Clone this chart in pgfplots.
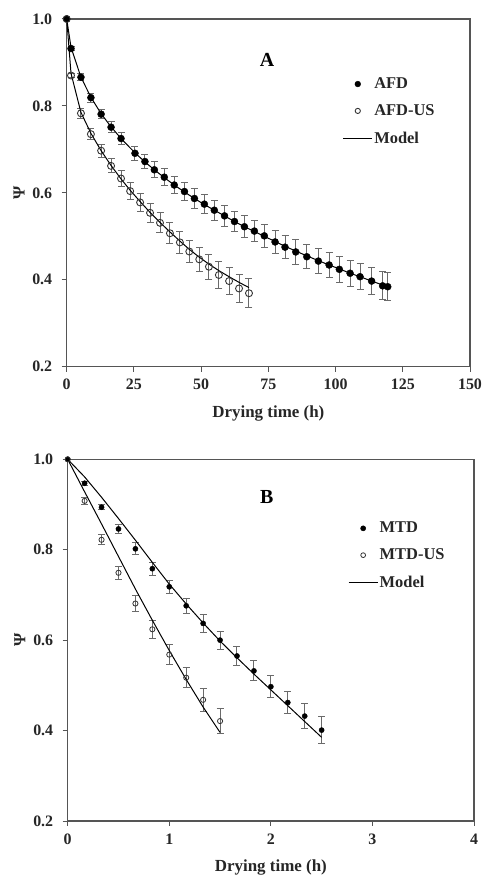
\documentclass[border=0pt]{standalone}
\usepackage{fontspec}
\setmainfont{Liberation Serif}
\usepackage{pgfplots}
\usepackage{pgfplotstable}
\pgfplotsset{compat=1.18}

\pgfplotstableread{
x y e
0 1.000 0
1.6 0.932 0.005
5.3 0.866 0.008
9.0 0.819 0.010
12.8 0.781 0.011
16.5 0.751 0.013
20.2 0.725 0.014
25.4 0.691 0.016
29.1 0.672 0.017
32.6 0.653 0.018
36.3 0.636 0.019
40.0 0.618 0.020
43.8 0.603 0.021
47.5 0.587 0.022
51.2 0.574 0.022
54.9 0.560 0.023
58.7 0.547 0.024
62.4 0.534 0.024
66.1 0.522 0.025
69.8 0.512 0.025
73.5 0.501 0.026
77.5 0.487 0.027
81.2 0.475 0.027
85.2 0.464 0.028
89.3 0.453 0.028
93.6 0.443 0.029
97.6 0.434 0.029
101.4 0.424 0.030
105.4 0.415 0.030
109.1 0.407 0.030
113.4 0.397 0.031
117.5 0.386 0.032
119.4 0.384 0.032
}\afd

\pgfplotstableread{
x y e
0 1.000 0
1.6 0.870 0.005
5.3 0.783 0.012
9.0 0.735 0.013
12.8 0.697 0.015
16.5 0.662 0.016
20.2 0.633 0.018
23.6 0.604 0.020
27.3 0.578 0.021
31.0 0.554 0.022
34.7 0.531 0.023
38.4 0.507 0.024
42.1 0.486 0.025
45.6 0.465 0.026
49.3 0.447 0.028
52.9 0.430 0.029
56.6 0.411 0.030
60.4 0.397 0.031
64.1 0.380 0.032
67.8 0.369 0.033
}\afdus

\pgfplotstableread{
x y
0 1.000
1.6 0.935
5.3 0.866
9.0 0.820
12.8 0.782
16.5 0.752
20.2 0.725
25.4 0.692
29.1 0.671
32.6 0.653
36.3 0.635
40.0 0.618
43.8 0.602
47.5 0.587
51.2 0.573
54.9 0.560
58.7 0.547
62.4 0.534
66.1 0.522
69.8 0.511
73.5 0.500
77.5 0.488
81.2 0.477
85.2 0.466
89.3 0.455
93.6 0.444
97.6 0.434
101.4 0.425
105.4 0.415
109.1 0.407
113.4 0.397
117.5 0.388
119.4 0.384
}\afdmodel

\pgfplotstableread{
x y
0 1.000
1.6 0.875
5.3 0.785
9.0 0.737
12.8 0.697
16.5 0.663
20.2 0.632
23.6 0.606
27.3 0.580
31.0 0.555
34.7 0.532
38.4 0.510
42.1 0.489
45.6 0.470
49.3 0.452
52.9 0.436
56.6 0.421
60.4 0.407
64.1 0.394
67.8 0.382
}\afdusmodel

\pgfplotstableread{
x y e
0 1.000 0
0.1667 0.947 0.004
0.3333 0.894 0.006
0.5 0.846 0.010
0.6667 0.802 0.013
0.8333 0.758 0.014
1.0 0.718 0.015
1.1667 0.676 0.017
1.3333 0.637 0.020
1.5 0.600 0.020
1.6667 0.565 0.021
1.8333 0.532 0.022
2.0 0.497 0.024
2.1667 0.462 0.025
2.3333 0.432 0.028
2.5 0.401 0.030
}\mtd

\pgfplotstableread{
x y e
0 1.000 0
0.1667 0.908 0.007
0.3333 0.822 0.011
0.5 0.749 0.015
0.6667 0.681 0.017
0.8333 0.624 0.020
1.0 0.568 0.022
1.1667 0.517 0.022
1.3333 0.468 0.025
1.5 0.421 0.028
}\mtdus

\pgfplotstableread{
x y
0 1.000
0.1667 0.961
0.3333 0.916
0.5 0.869
0.6667 0.821
0.8333 0.772
1.0 0.724
1.1667 0.680
1.3333 0.638
1.5 0.598
1.6667 0.561
1.8333 0.525
2.0 0.490
2.1667 0.455
2.3333 0.420
2.5 0.385
}\mtdmodel

\pgfplotstableread{
x y
0 1.000
0.1667 0.928
0.3333 0.857
0.5 0.785
0.6667 0.713
0.8333 0.644
1.0 0.577
1.1667 0.513
1.3333 0.452
1.5 0.396
}\mtdusmodel

\definecolor{frame}{HTML}{555555}
\definecolor{ebar}{HTML}{6A6A6A}

\pgfplotsset{
  panel/.style={
    scale only axis,
    axis line style={draw=frame, line width=1.2pt},
    tick style={draw=frame, line width=1pt},
    tick align=outside,
    major tick length=5bp,
    xtick pos=bottom, ytick pos=left,
    ymin=0.2, ymax=1.0,
    ytick={0.2,0.4,0.6,0.8,1.0},
    /pgf/number format/assume math mode=true,
    tick label style={font=\bfseries\fontsize{16}{16}\selectfont, text=black!85},
    yticklabel style={/pgf/number format/fixed, /pgf/number format/fixed zerofill, /pgf/number format/precision=1, xshift=-6bp},
    xticklabel style={/pgf/number format/fixed, yshift=-4bp},
    xlabel={Drying time (h)},
    ylabel={Ψ},
    label style={font=\bfseries\fontsize{17}{17}\selectfont, text=black!85},
    xlabel style={yshift=-9bp},
    ylabel style={at={(axis description cs:-0.118,0.5)}, anchor=center, rotate=0},
    clip=false,
    legend cell align=left,
    legend style={draw=none, fill=none, anchor=north west,
      font=\bfseries\fontsize{16.5}{16.5}\selectfont, row sep=11.5bp,
      nodes={inner sep=1.5bp, text=black!85}},
    legend image code/.code={\draw[mark repeat=2,mark phase=2] plot coordinates {(0bp,0bp) (14.5bp,0bp) (29bp,0bp)};},
  },
  ebars/.style={
    error bars/.cd, y dir=both, y explicit,
    error bar style={draw=ebar, line width=1pt},
    error mark options={rotate=90, mark size=3.5bp, draw=ebar, line width=1pt},
    /pgfplots/.cd,
  },
}

\begin{document}
\begin{tikzpicture}[x=1bp,y=1bp]
\path[use as bounding box] (0,0) rectangle (485,877);

\begin{axis}[panel,
  at={(66.7bp,510.3bp)}, anchor=south west,
  width=403.3bp, height=347.7bp,
  xmin=0, xmax=150, xtick={0,25,50,75,100,125,150},
  legend style={at={(axis cs:101.5,0.873)}},
]
\addplot[only marks, mark=*, mark size=3.5bp, black, legend image post style={mark size=2.9bp}, ebars] table[x=x,y=y,y error=e] {\afd};
\addlegendentry{AFD}
\addplot[only marks, mark=o, mark size=3.5bp, mark options={fill=white, line width=0.9pt}, black!80, legend image post style={mark size=2.6bp}, ebars] table[x=x,y=y,y error=e] {\afdus};
\addlegendentry{AFD-US}
\addplot[black, line width=1pt, no marks] table[x=x,y=y] {\afdmodel};
\addlegendentry{Model}
\addplot[black, line width=1pt, no marks, forget plot] table[x=x,y=y] {\afdusmodel};
\node[font=\bfseries\fontsize{20}{20}\selectfont] at (axis cs:74.5,0.906) {A};
\end{axis}

\begin{axis}[panel,
  at={(67.7bp,56bp)}, anchor=south west,
  width=406.3bp, height=361.7bp,
  xmin=0, xmax=4, xtick={0,1,2,3,4},
  legend style={at={(axis cs:2.73,0.869)}},
]
\addplot[only marks, mark=*, mark size=2.6bp, black, legend image post style={mark size=2.6bp}, ebars] table[x=x,y=y,y error=e] {\mtd};
\addlegendentry{MTD}
\addplot[only marks, mark=o, mark size=2.6bp, mark options={fill=white, line width=0.8pt}, black!80, legend image post style={mark size=2.4bp}, ebars] table[x=x,y=y,y error=e] {\mtdus};
\addlegendentry{MTD-US}
\addplot[black, line width=1pt, no marks] table[x=x,y=y] {\mtdmodel};
\addlegendentry{Model}
\addplot[black, line width=1pt, no marks, forget plot] table[x=x,y=y] {\mtdusmodel};
\node[font=\bfseries\fontsize{20}{20}\selectfont] at (axis cs:1.96,0.917) {B};
\end{axis}
\end{tikzpicture}
\end{document}
